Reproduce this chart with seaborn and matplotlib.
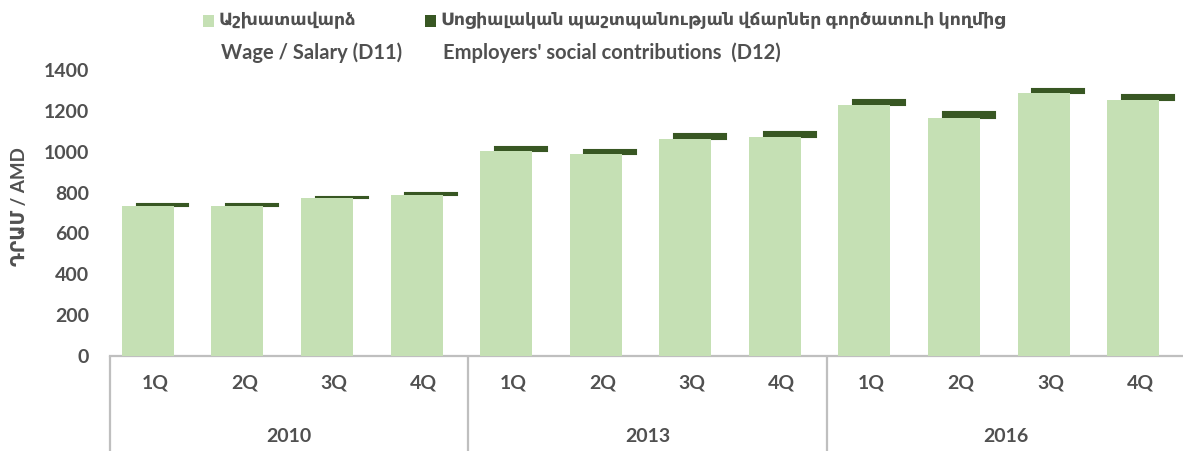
import numpy as np
import pandas as pd
import matplotlib
matplotlib.use("Agg")
import matplotlib.pyplot as plt
import matplotlib.transforms as mtransforms
from matplotlib.patches import Rectangle
import seaborn as sns

# ---- data -------------------------------------------------------------
years = ["2010", "2013", "2016"]
quarters = ["1Q", "2Q", "3Q", "4Q"]
wages = [734, 734, 772, 790, 1003, 990, 1060, 1070, 1229, 1167, 1286, 1253]
contributions = [8, 8, 6, 6, 20, 20, 25, 26, 24, 25, 19, 26]
y_ticks = [0, 200, 400, 600, 800, 1000, 1200, 1400]

wage_label = ["Աշխատավարձ", "Wage / Salary (D11)"]
contrib_label = ["Սոցիալական պաշտպանության վճարներ գործատուի կողմից",
                 "Employers' social contributions  (D12)"]
y_title = "ԴՐԱՄ / AMD"

# ---- style ------------------------------------------------------------
LIGHT = "#C5E0B4"
DARK = "#385723"
TEXT = "#505050"
AXIS = "#BFBFBF"
FS = 13.5

sns.set_theme(style="white")
plt.rcParams["font.family"] = ["Lato", "DejaVu Sans"]
plt.rcParams["font.weight"] = "bold"

W, H = 1183, 451
fig = plt.figure(figsize=(W / 100, H / 100), dpi=100)
ax = fig.add_axes([110 / W, 95 / H, 1075 / W, 286 / H])

n = len(wages)
pos = np.arange(n)
df = pd.DataFrame({"pos": pos, "wage": wages, "contrib": contributions})
df["wage_x"] = df["pos"] - 0.078
df["contrib_x"] = df["pos"] + 0.086

# contributions sit on top of the wage, slightly shifted to the right
sns.barplot(data=df, x="contrib_x", y="contrib", native_scale=True,
            width=0.58, color=DARK, saturation=1, errorbar=None,
            bottom=df["wage"].to_numpy(), linewidth=1.5, edgecolor=DARK,
            zorder=2, ax=ax)
sns.barplot(data=df, x="wage_x", y="wage", native_scale=True,
            width=0.58, color=LIGHT, saturation=1, errorbar=None,
            linewidth=0, zorder=3, ax=ax)

ax.set_xlim(-0.5, n - 0.5)
ax.set_ylim(0, 1400)
ax.set_xlabel("")
ax.set_ylabel("")
ax.set_xticks([])
ax.set_yticks(y_ticks)
ax.set_yticklabels([str(v) for v in y_ticks], fontsize=FS + 0.5,
                   fontweight="bold", color=TEXT)
ax.tick_params(axis="y", length=0, pad=15)
for s in ("left", "right", "top"):
    ax.spines[s].set_visible(False)
ax.spines["bottom"].set_color(AXIS)
ax.spines["bottom"].set_linewidth(1.6)
ax.grid(False)

# two-level category axis
for i in range(n):
    ax.annotate(quarters[i % 4], xy=(i, 0), xycoords=("data", "axes fraction"),
                xytext=(0, -27), textcoords="offset pixels",
                ha="center", va="center", fontsize=FS + 0.5,
                fontweight="bold", color=TEXT)
for g, yr in enumerate(years):
    ax.annotate(yr, xy=(g * 4 + 1.5, 0), xycoords=("data", "axes fraction"),
                xytext=(0, -81), textcoords="offset pixels",
                ha="center", va="center", fontsize=FS + 0.5,
                fontweight="bold", color=TEXT)

blend = mtransforms.blended_transform_factory(ax.transData, ax.transAxes)
depth = -95 / 286
for b in range(len(years) + 1):
    xb = b * 4 - 0.5
    ax.plot([xb, xb], [0, depth], transform=blend, color=AXIS,
            linewidth=1.6, clip_on=False, solid_capstyle="butt")

# y-axis title
fig.text(20 / W, 1 - 207 / H, y_title, rotation=90, ha="center",
         va="center", fontsize=FS, fontweight="bold", color=TEXT)

# legend
def legend_entry(x_box, x_text, color, lines):
    fig.add_artist(Rectangle((x_box / W, 1 - 27 / H), 11 / W, 12 / H,
                             transform=fig.transFigure, color=color, lw=0))
    fig.text(x_text / W, 1 - 20 / H, lines[0], ha="left", va="center",
             fontsize=FS - 1, fontweight="bold", color=TEXT)
    fig.text((x_text + 2) / W, 1 - 53 / H, lines[1], ha="left", va="center",
             fontsize=FS + 1, fontweight="bold", color=TEXT)

legend_entry(203, 219, LIGHT, wage_label)
legend_entry(425, 441, DARK, contrib_label)

fig.savefig("out.png", dpi=100)
